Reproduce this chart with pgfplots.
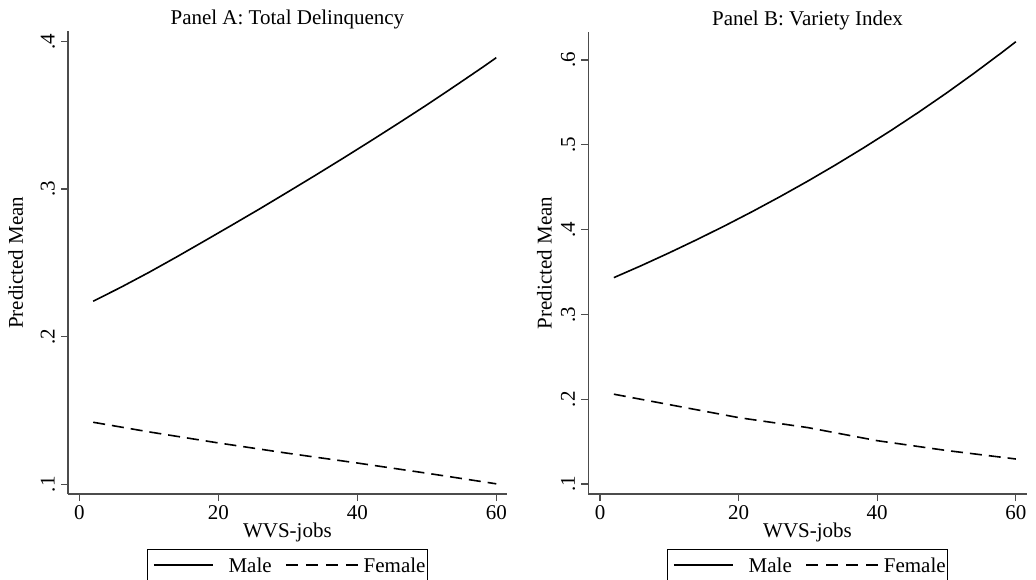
\documentclass[border=0pt]{standalone}
\usepackage{fontspec}
\setmainfont{Liberation Serif}
\usepackage{pgfplots}
\pgfplotsset{compat=1.18}
\usepackage{pgfplotstable}

\pgfplotstableread{
x y
2 0.2240
6 0.2335
10 0.2435
14 0.2540
18 0.2648
22 0.2757
26 0.2867
30 0.2980
34 0.3094
38 0.3210
42 0.3328
46 0.3448
50 0.3570
54 0.3696
58 0.3824
60 0.3890
}\maleA
\pgfplotstableread{
x y
2 0.1420
10 0.1355
20 0.1280
30 0.1210
40 0.1144
50 0.1075
60 0.1003
}\femaleA
\pgfplotstableread{
x y
2 0.3434
6 0.3577
10 0.3727
14 0.3883
18 0.4045
22 0.4214
26 0.4390
30 0.4573
34 0.4764
38 0.4963
42 0.5170
46 0.5386
50 0.5611
54 0.5846
58 0.6090
60 0.6216
}\maleB
\pgfplotstableread{
x y
2 0.2059
11.5 0.1913
20 0.1783
30 0.1665
40 0.1511
50 0.1395
60 0.1295
}\femaleB

\newcommand{\fs}{\fontsize{10.5}{12.6}\selectfont}

\pgfplotsset{
  statastyle/.style={
    scale only axis,
    axis x line*=bottom,
    axis y line*=left,
    axis line style={black!70, line width=0.65pt},
    tick style={black!70, line width=0.65pt},
    tick align=outside,
    major tick length=3.5pt,
    xtick={0,20,40,60},
    /pgf/number format/assume math mode=true,
    tick label style={font=\fs},
    xticklabel style={anchor=base, inner sep=0pt},
    xticklabel shift=9pt,
    yticklabel style={rotate=90, anchor=base, inner sep=0pt},
    yticklabel shift=3.2pt,
    every axis title/.style={at={(0.5,1)}, anchor=base, yshift=3.35pt, font=\fs},
    every axis x label/.style={at={(axis description cs:0.5,0)}, anchor=base, yshift=-21.5pt, font=\fs},
    xlabel={WVS-jobs},
    ylabel={Predicted Mean},
    legend columns=2,
    legend style={
      at={(0.5,-0.1189)}, anchor=north,
      draw=black, line width=0.5pt,
      inner xsep=1pt, inner ysep=4.2pt,
      font=\fs,
      nodes={inner sep=0pt, text depth=4pt, anchor=base},
      /tikz/column 1/.style={column sep=7.5pt},
      /tikz/column 2/.style={column sep=6.7pt},
      /tikz/column 3/.style={column sep=1.5pt},
    },
  }
}
\pgfplotsset{
  male/.style={black, line width=0.8pt,
    legend image code/.code={\path[draw=none, fill=none] (0pt,0pt) rectangle (2.3pt,0pt); \draw[black, line width=0.8pt, solid] (2.3pt,3.7pt) -- (31.8pt,3.7pt);}},
  female/.style={black, line width=0.8pt, dash pattern=on 6pt off 3.5pt,
    legend image code/.code={\draw[black, line width=0.8pt, dash pattern=on 6pt off 4pt] (0pt,3.7pt) -- (37pt,3.7pt);}},
}

\begin{document}
\begin{tikzpicture}
\begin{axis}[statastyle,
  at={(34pt,42.5pt)}, anchor=south west,
  width=219.35pt, height=231.3pt,
  xmin=-1.63, xmax=61.5,
  ymin=0.0934, ymax=0.4068,
  ytick={0.1,0.2,0.3,0.4},
  yticklabels={.1,.2,.3,.4},
  every axis y label/.style={at={(axis description cs:-0.1030,0.5)}, rotate=90, anchor=base, font=\fs},
  title={Panel A: Total Delinquency},
]
\addplot[male] table[x=x,y=y] {\maleA};
\addlegendentry{Male}
\addplot[female] table[x=x,y=y] {\femaleA};
\addlegendentry{Female}
\end{axis}

\begin{axis}[statastyle,
  at={(294.15pt,42.5pt)}, anchor=south west,
  width=219.2pt, height=231.15pt,
  xmin=-1.69, xmax=61.57,
  ymin=0.0882, ymax=0.6334,
  ytick={0.1,0.2,0.3,0.4,0.5,0.6},
  yticklabels={.1,.2,.3,.4,.5,.6},
  every axis y label/.style={at={(axis description cs:-0.0835,0.5)}, rotate=90, anchor=base, font=\fs},
  title={Panel B: Variety Index},
]
\addplot[male] table[x=x,y=y] {\maleB};
\addlegendentry{Male}
\addplot[female] table[x=x,y=y] {\femaleB};
\addlegendentry{Female}
\end{axis}
\pgfresetboundingbox
\useasboundingbox (0pt,0pt) rectangle (518pt,289.5pt);
\end{tikzpicture}
\end{document}
